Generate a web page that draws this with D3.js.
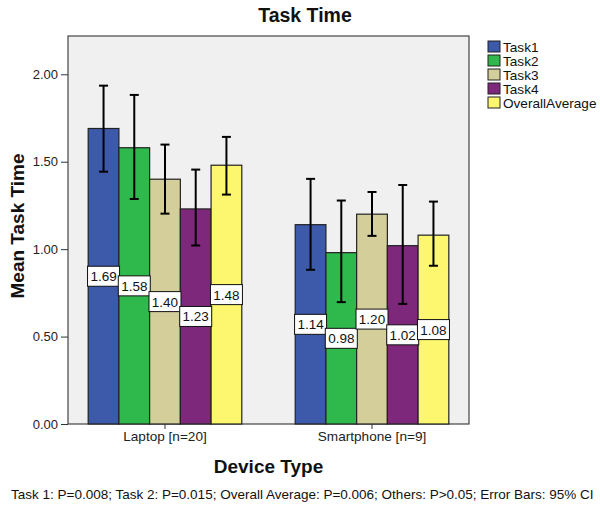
<!DOCTYPE html>
<html><head><meta charset="utf-8">
<script src="https://cdn.jsdelivr.net/npm/d3@7"></script>
<style>body{margin:0;background:#fff}svg{display:block;font-family:"Liberation Sans",Arial,sans-serif}</style>
</head><body>
<script>
const devices = ["Laptop [n=20]", "Smartphone [n=9]"];
const seriesNames = ["Task1", "Task2", "Task3", "Task4", "OverallAverage"];
const colors = ["#3d59a9", "#2fb84b", "#d4cf9a", "#7e287c", "#fdf770"];
const laptopMeans = [1.69, 1.58, 1.40, 1.23, 1.48];
const smartphoneMeans = [1.14, 0.98, 1.20, 1.02, 1.08];
const laptopLow = [1.443, 1.287, 1.203, 1.021, 1.312];
const laptopHigh = [1.935, 1.882, 1.598, 1.455, 1.642];
const smartphoneLow = [0.882, 0.697, 1.076, 0.687, 0.905];
const smartphoneHigh = [1.402, 1.278, 1.327, 1.367, 1.272];
const yTicks = [0, 0.5, 1.0, 1.5, 2.0];

const W = 600, H = 508;
const L = 68, R = 469, T = 36, B = 424;
const svg = d3.select("body").append("svg").attr("width", W).attr("height", H);

const means = [laptopMeans, smartphoneMeans];
const lows = [laptopLow, smartphoneLow];
const highs = [laptopHigh, smartphoneHigh];
const data = [];
devices.forEach((d, i) => seriesNames.forEach((s, j) => data.push({
  device: d, series: s, j, value: means[i][j], lo: lows[i][j], hi: highs[i][j]
})));

const y = d3.scaleLinear().domain([0, 2.219]).range([B, T]);
const x0 = d3.scaleBand().domain(devices).range([L, R]).paddingInner(0.258).paddingOuter(0.0975);
const x1 = d3.scaleBand().domain(seriesNames).range([0, x0.bandwidth()]).padding(0);

// plot background
svg.append("rect").attr("x", L).attr("y", T).attr("width", R - L).attr("height", B - T)
  .attr("fill", "#f0f0f0").attr("stroke", "#444").attr("stroke-width", 1.2);

// bars
svg.append("g").selectAll("rect").data(data).join("rect")
  .attr("x", d => x0(d.device) + x1(d.series))
  .attr("y", d => y(d.value))
  .attr("width", x1.bandwidth())
  .attr("height", d => y(0) - y(d.value))
  .attr("fill", d => colors[d.j])
  .attr("stroke", "#222").attr("stroke-width", 1.2);

// error bars
const eb = svg.append("g").attr("stroke", "#000").attr("stroke-width", 2);
data.forEach(d => {
  const cx = x0(d.device) + x1(d.series) + x1.bandwidth() / 2;
  eb.append("line").attr("x1", cx).attr("x2", cx).attr("y1", y(d.lo)).attr("y2", y(d.hi));
  eb.append("line").attr("x1", cx - 4.5).attr("x2", cx + 4.5).attr("y1", y(d.lo)).attr("y2", y(d.lo));
  eb.append("line").attr("x1", cx - 4.5).attr("x2", cx + 4.5).attr("y1", y(d.hi)).attr("y2", y(d.hi));
});

// value labels
const lg = svg.append("g");
data.forEach(d => {
  const cx = x0(d.device) + x1(d.series) + x1.bandwidth() / 2;
  const cy = y(d.value / 2);
  lg.append("rect").attr("x", cx - 16).attr("y", cy - 10).attr("width", 32).attr("height", 20)
    .attr("fill", "#fff").attr("stroke", "#111").attr("stroke-width", 1);
  lg.append("text").attr("x", cx).attr("y", cy + 5).attr("text-anchor", "middle")
    .attr("font-size", 13.5).attr("fill", "#111").text(d.value.toFixed(2));
});

// y axis
const yAxis = svg.append("g").attr("transform", `translate(${L},0)`)
  .call(d3.axisLeft(y).tickValues(yTicks).tickFormat(d3.format(".2f")).tickSize(7).tickPadding(3));
yAxis.select(".domain").remove();
yAxis.selectAll("line").attr("stroke", "#333");
yAxis.selectAll("text").attr("font-size", 13).attr("fill", "#222").attr("font-family", "Liberation Sans, Arial, sans-serif");

// x axis
const xAxis = svg.append("g").attr("transform", `translate(0,${B})`)
  .call(d3.axisBottom(x0).tickSize(5).tickPadding(2));
xAxis.select(".domain").remove();
xAxis.selectAll("line").attr("stroke", "#333");
xAxis.selectAll("text").attr("font-size", 13.6).attr("fill", "#222").attr("font-family", "Liberation Sans, Arial, sans-serif");

// titles
svg.append("text").attr("x", 305).attr("y", 22).attr("text-anchor", "middle")
  .attr("font-size", 19.5).attr("font-weight", "bold").attr("fill", "#111").text("Task Time");
svg.append("text").attr("x", (L + R) / 2).attr("y", 473).attr("text-anchor", "middle")
  .attr("font-size", 19).attr("font-weight", "bold").attr("fill", "#111").text("Device Type");
svg.append("text").attr("transform", `translate(24,${(T + B) / 2 - 4}) rotate(-90)`).attr("text-anchor", "middle")
  .attr("font-size", 19).attr("font-weight", "bold").attr("fill", "#111").text("Mean Task Time");
svg.append("text").attr("x", 11).attr("y", 499).attr("font-size", 13.5).attr("fill", "#111")
  .text("Task 1: P=0.008; Task 2: P=0.015; Overall Average: P=0.006; Others: P>0.05; Error Bars: 95% CI");

// legend
const leg = svg.append("g");
seriesNames.forEach((s, j) => {
  const cy = 46.5 + j * 14;
  leg.append("rect").attr("x", 488).attr("y", cy - 5.5).attr("width", 12).attr("height", 11)
    .attr("fill", colors[j]).attr("stroke", "#222").attr("stroke-width", 1);
  leg.append("text").attr("x", 503).attr("y", cy + 5).attr("font-size", 13.6).attr("fill", "#111").text(s);
});
</script>
</body></html>
